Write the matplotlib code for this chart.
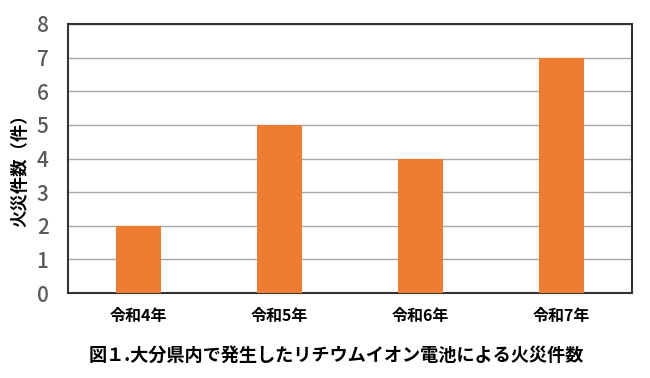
import matplotlib.pyplot as plt

plt.rcParams['font.family'] = ['Noto Sans CJK JP', 'DejaVu Sans']

categories = ['令和4年', '令和5年', '令和6年', '令和7年']
fires = [2, 5, 4, 7]
yticks = [0, 1, 2, 3, 4, 5, 6, 7, 8]
title = '図１.大分県内で発生したリチウムイオン電池による火災件数'
ylabel = '火災件数（件）'

fig = plt.figure(figsize=(6.5, 3.78), dpi=100)
ax = fig.add_axes([68 / 650, 1 - 293 / 378, 564 / 650, 269 / 378])

x = range(len(categories))
ax.bar(x, fires, width=0.32, color='#ed7d31', zorder=3)
ax.set_xlim(-0.5, len(categories) - 0.5)
ax.set_ylim(0, 8)
ax.set_yticks(yticks)
ax.set_yticklabels([str(v) for v in yticks], fontsize=15, color='#595959',
                   fontweight='medium')
ax.set_xticks(list(x))
ax.set_xticklabels(categories, fontsize=11.5, fontweight='bold')
ax.tick_params(axis='both', length=0)
ax.tick_params(axis='x', pad=11)
ax.tick_params(axis='y', pad=14)
ax.yaxis.grid(True, color='#a6a6a6', linewidth=1, zorder=0)
for s in ax.spines.values():
    s.set_color('#333333')
    s.set_linewidth(1.5)

fig.text(20 / 650, 1 - 166 / 378, ylabel, rotation=90, fontsize=12.5,
         fontweight='bold', ha='center', va='center')
fig.text(336 / 650, 1 - 355 / 378, title, fontsize=13.1, fontweight='bold',
         ha='center', va='center')

fig.savefig('out.png', dpi=100)
